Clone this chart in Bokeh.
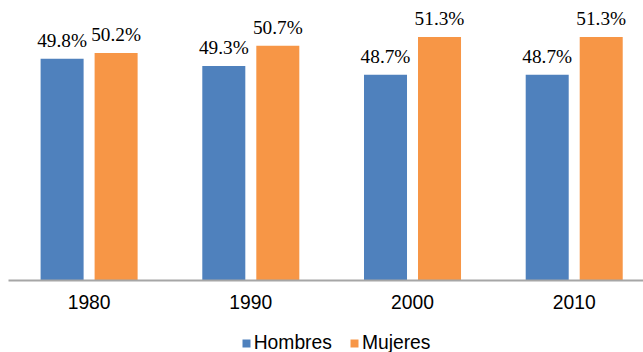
from bokeh.plotting import figure
from bokeh.models import ColumnDataSource, LabelSet, Range1d, FixedTicker, Legend, LegendItem
from bokeh.transform import dodge
from bokeh.layouts import column
from bokeh.embed import file_html
from bokeh.resources import INLINE

years = ["1980", "1990", "2000", "2010"]
hombres = [49.8, 49.3, 48.7, 48.7]
mujeres = [50.2, 50.7, 51.3, 51.3]
series_names = ["Hombres", "Mujeres"]

BLUE = "#4f81bd"
ORANGE = "#f79646"
FONT = "Liberation Sans"
FS = "19.3px"

idx = list(range(len(years)))
src = ColumnDataSource(dict(
    x=idx, h=hombres, m=mujeres,
    hl=[f"{v}%" for v in hombres], ml=[f"{v}%" for v in mujeres],
))

p = figure(width=643, height=330, output_backend="svg", toolbar_location=None,
           x_range=Range1d(-0.4985, 3.4285), y_range=Range1d(34.546, 53.816),
           y_axis_location=None, min_border_left=8, min_border_right=0,
           min_border_top=0, min_border_bottom=50)
p.outline_line_color = None
p.xgrid.visible = False
p.ygrid.visible = False

off = 0.167
bw = 0.266
r1 = p.vbar(x=dodge("x", -off, range=p.x_range), top="h", width=bw, source=src,
            fill_color=BLUE, line_color=None)
r2 = p.vbar(x=dodge("x", off, range=p.x_range), top="m", width=bw, source=src,
            fill_color=ORANGE, line_color=None)

for col, txt, d in (("h", "hl", -off), ("m", "ml", off)):
    p.add_layout(LabelSet(x=dodge("x", d, range=p.x_range), y=col, text=txt, source=src,
                          text_align="center", text_baseline="alphabetic", y_offset=12,
                          text_font=FONT, text_font_size=FS, text_color="#000000"))

ax = p.xaxis[0]
ax.ticker = FixedTicker(ticks=idx)
ax.major_label_overrides = {i: y for i, y in zip(idx, years)}
ax.axis_line_color = "#a6a6a6"
ax.axis_line_width = 2
ax.major_tick_line_color = None
ax.minor_tick_line_color = None
ax.major_tick_out = 0
ax.major_tick_in = 0
ax.major_label_standoff = 14
ax.major_label_text_font = FONT
ax.major_label_text_font_size = FS
ax.major_label_text_color = "#000000"

# legend strip below the chart (series glyphs kept outside its visible range)
lg = figure(width=643, height=22, output_backend="svg", toolbar_location=None,
            x_range=Range1d(-3, -2), y_range=Range1d(0, 1),
            x_axis_location=None, y_axis_location=None,
            min_border_left=0, min_border_right=0, min_border_top=0, min_border_bottom=0)
lg.outline_line_color = None
lg.xgrid.visible = False
lg.ygrid.visible = False
k1 = lg.vbar(x="x", top="h", width=0.1, source=src, fill_color=BLUE, line_color=None)
k2 = lg.vbar(x="x", top="m", width=0.1, source=src, fill_color=ORANGE, line_color=None)
legend = Legend(items=[LegendItem(label=series_names[0], renderers=[k1]),
                       LegendItem(label=series_names[1], renderers=[k2])],
                orientation="horizontal", location=(232.7, -2),
                glyph_width=10, glyph_height=10, label_standoff=3, spacing=17,
                padding=0, margin=0, border_line_color=None, background_fill_alpha=0,
                label_text_font=FONT, label_text_font_size=FS, label_text_color="#000000")
lg.add_layout(legend, "center")

layout = column(p, lg, spacing=0)
open("out.html", "w").write(file_html(layout, INLINE))
